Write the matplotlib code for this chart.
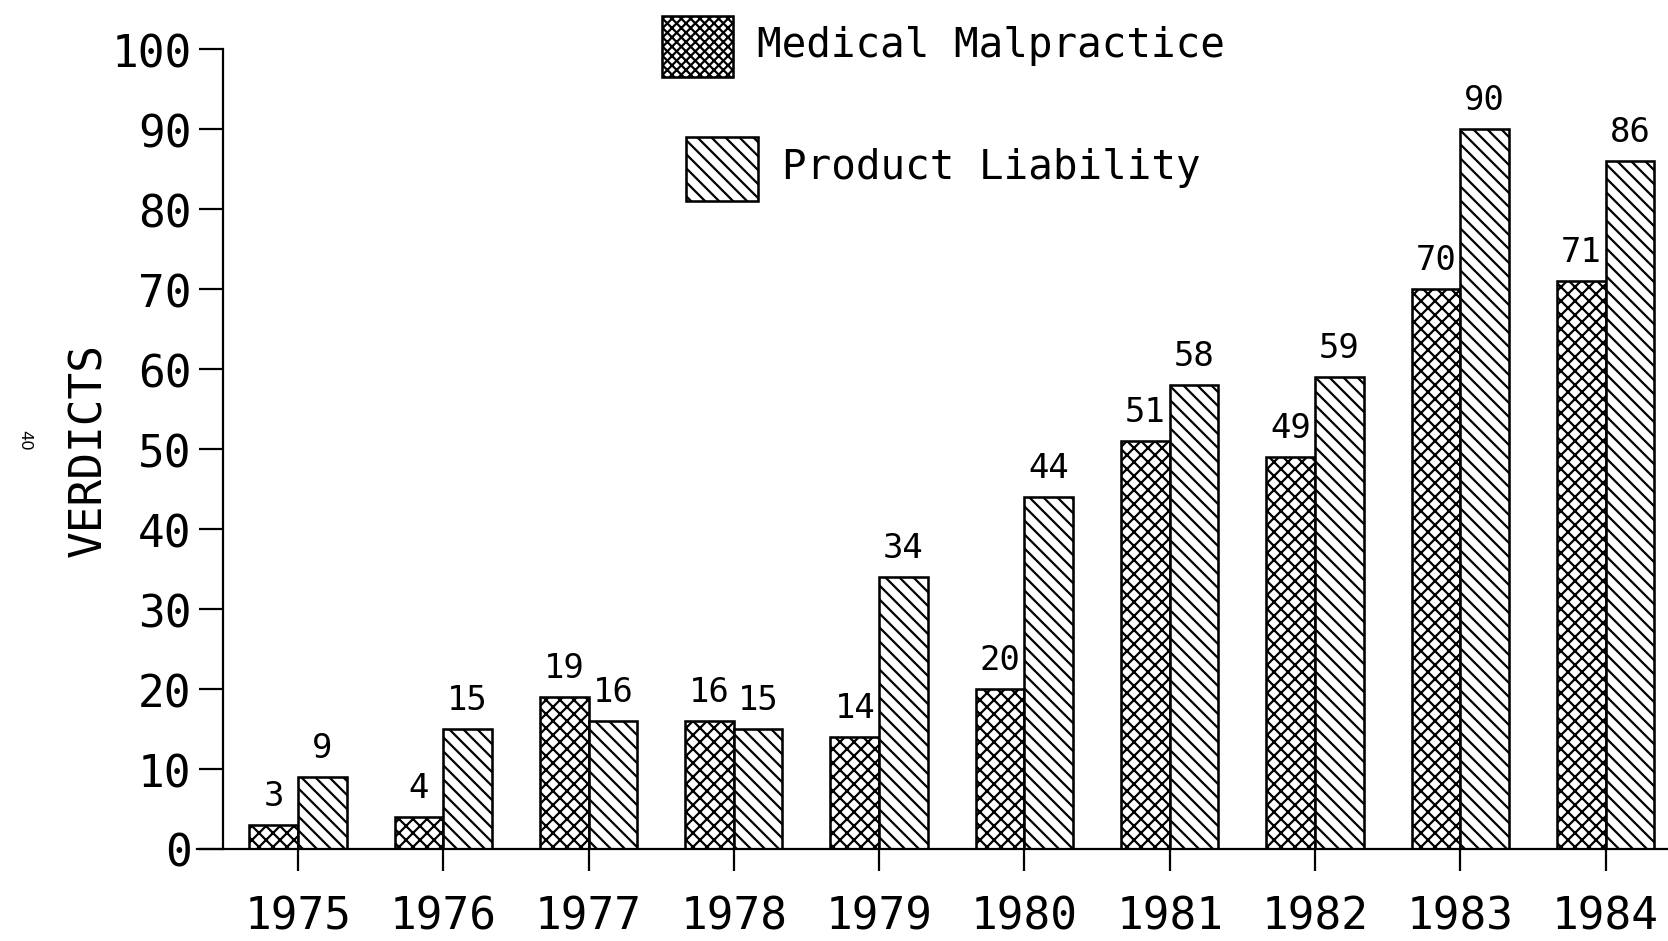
import numpy as np
import matplotlib.pyplot as plt
from matplotlib.patches import Rectangle

# data
years = ['1975', '1976', '1977', '1978', '1979', '1980', '1981', '1982', '1983', '1984']
malpractice = [3, 4, 19, 16, 14, 20, 51, 49, 70, 71]
product = [9, 15, 16, 15, 34, 44, 58, 59, 90, 86]
yticks = [0, 10, 20, 30, 40, 50, 60, 70, 80, 90, 100]
ytick_labels = [str(t) for t in yticks]

W, H, DPI = 1668, 942, 84
plt.rcParams['font.family'] = 'DejaVu Sans Mono'
plt.rcParams['hatch.linewidth'] = 1.9

CROSS = 'xx'          # crosshatch, ~14px period at this dpi
DIAG = '\\' * 2       # back-slash lines, ~14px apart


def fx(px):
    return px / W


def fy(py):
    return 1 - py / H


fig = plt.figure(figsize=(W / DPI, H / DPI), dpi=DPI, facecolor='white')
# axes box: y-axis at x=223px, baseline at y=850px, 100 at y=50px
ax = fig.add_axes([fx(223), fy(850), fx(W) - fx(223), fy(50) - fy(850)])

x = np.arange(len(years))
w = 0.335
b1 = ax.bar(x - w / 2, malpractice, w, facecolor='white', edgecolor='black',
            hatch=CROSS, linewidth=2.2)
b2 = ax.bar(x + w / 2, product, w, facecolor='white', edgecolor='black',
            hatch=DIAG, linewidth=2.2)
ax.bar_label(b1, padding=11, fontsize=29)
ax.bar_label(b2, padding=11, fontsize=29)

ax.set_xlim(-0.516, 9.43)
ax.set_ylim(0, 100)
ax.set_xticks(x)
ax.set_xticklabels(years)
ax.set_yticks(yticks)
ax.set_yticklabels(ytick_labels)
ax.tick_params(axis='y', direction='out', length=21, width=1.9, pad=6, labelsize=38)
ax.tick_params(axis='x', direction='out', length=19, width=1.9, pad=20, labelsize=38)

for s in ['top', 'right', 'bottom']:
    ax.spines[s].set_visible(False)
ax.spines['left'].set_linewidth(1.9)
# baseline runs a bit left of the y-axis, like the original plot
ax.axhline(0, xmin=-0.018, xmax=1, color='black', lw=1.9, clip_on=False)

ax.set_ylabel('VERDICTS', fontsize=38)
ax.yaxis.set_label_coords(-0.078, 0.5)

# staggered legend at the top
fig.add_artist(Rectangle((fx(662), fy(78)), fx(733) - fx(662), fy(17) - fy(78),
                         facecolor='white', edgecolor='black', hatch='xxx', lw=2.2))
fig.text(fx(757), fy(46), 'Medical Malpractice', fontsize=35, va='center')
fig.add_artist(Rectangle((fx(686), fy(202)), fx(758) - fx(686), fy(138) - fy(202),
                         facecolor='white', edgecolor='black', hatch=DIAG, lw=2.2))
fig.text(fx(782), fy(168), 'Product Liability', fontsize=35, va='center')

# page number from the scanned page
fig.text(fx(25), fy(440), '40', rotation=270, fontsize=14, family='DejaVu Sans',
         ha='center', va='center')

fig.savefig('out.png', dpi=DPI, facecolor='white')
